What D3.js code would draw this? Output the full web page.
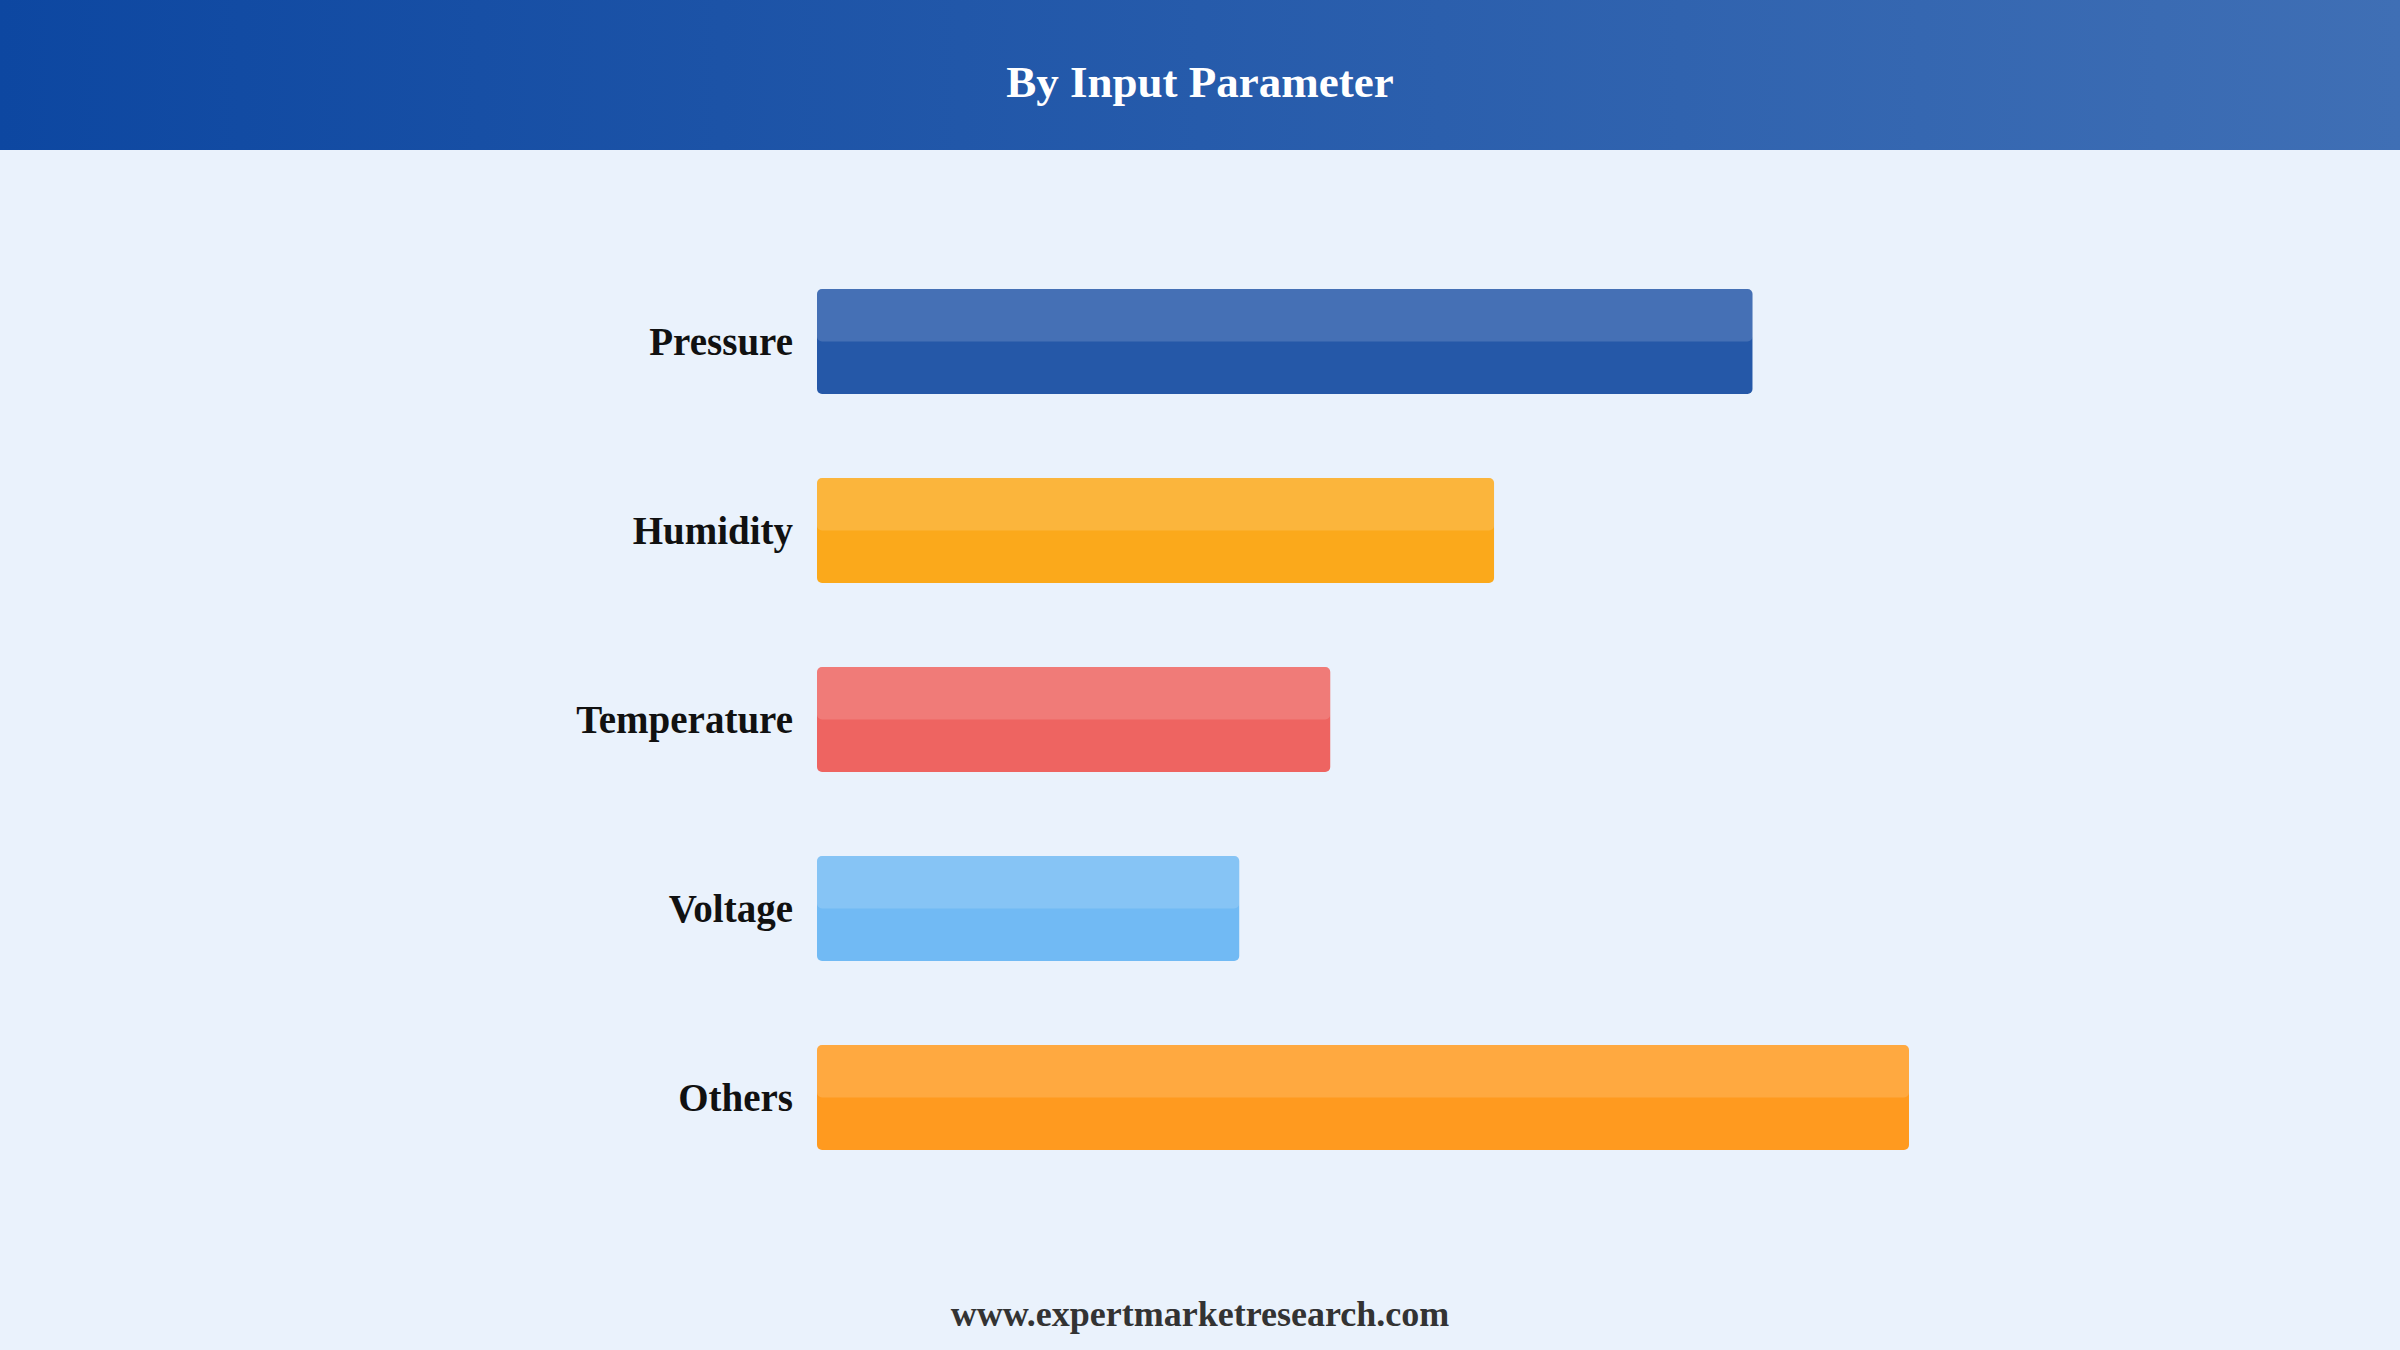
<!DOCTYPE html>
<html>
<head>
<meta charset="utf-8">
<script src="https://cdn.jsdelivr.net/npm/d3@7"></script>
<style>
  html, body { margin: 0; padding: 0; background: #eaf2fc; }
  svg { display: block; }
</style>
</head>
<body>
<div id="chart"></div>
<script>
const categories = ['Pressure', 'Humidity', 'Temperature', 'Voltage', 'Others'];
const values = [25.7, 18.6, 14.1, 11.6, 30.0];
const colors = ['#2558a8', '#fba91b', '#ee6461', '#71baf4', '#ff9a1f'];

const title = 'By Input Parameter';
const source = 'www.expertmarketresearch.com';

const width = 2400;
const height = 1350;
const headerH = 150;
const font = '"Liberation Serif", "Times New Roman", serif';

const data = categories.map((c, i) => ({ name: c, value: values[i], color: colors[i] }));

const svg = d3.select('#chart').append('svg')
  .attr('viewBox', [0, 0, width, height])
  .attr('width', width)
  .attr('height', height);

// header gradient
const grad = svg.append('defs').append('linearGradient')
  .attr('id', 'hdr')
  .attr('x1', '0%').attr('x2', '100%')
  .attr('y1', '0%').attr('y2', '0%');
grad.append('stop').attr('offset', '0%').attr('stop-color', '#0d47a1');
grad.append('stop').attr('offset', '100%').attr('stop-color', '#3f6fb5');

svg.append('rect')
  .attr('width', width)
  .attr('height', height)
  .attr('fill', '#eaf2fc');

svg.append('rect')
  .attr('width', width)
  .attr('height', headerH)
  .attr('fill', 'url(#hdr)');

svg.append('text')
  .attr('x', width / 2)
  .attr('y', 81)
  .attr('dy', '0.35em')
  .attr('text-anchor', 'middle')
  .attr('font-family', font)
  .attr('font-weight', 'bold')
  .attr('font-size', 45)
  .attr('fill', '#fff')
  .text(title);

const x = d3.scaleLinear()
  .domain([0, 30])
  .range([817, 1909]);

const y = d3.scaleBand()
  .domain(categories)
  .range([205, 1234])
  .padding(0.444);

const bars = svg.append('g')
  .selectAll('g')
  .data(data)
  .enter().append('g');

bars.append('rect')
  .attr('x', x(0))
  .attr('y', d => y(d.name))
  .attr('width', d => x(d.value) - x(0))
  .attr('height', y.bandwidth())
  .attr('rx', 5)
  .attr('fill', d => d.color);

// lighter top half
bars.append('rect')
  .attr('x', x(0))
  .attr('y', d => y(d.name))
  .attr('width', d => x(d.value) - x(0))
  .attr('height', y.bandwidth() / 2)
  .attr('rx', 5)
  .attr('fill', '#fff')
  .attr('fill-opacity', 0.15);

bars.append('text')
  .attr('x', x(0) - 24)
  .attr('y', d => y(d.name) + y.bandwidth() / 2)
  .attr('dy', '0.35em')
  .attr('text-anchor', 'end')
  .attr('font-family', font)
  .attr('font-weight', 'bold')
  .attr('font-size', 39)
  .attr('fill', '#111')
  .text(d => d.name);

svg.append('text')
  .attr('x', width / 2)
  .attr('y', 1313)
  .attr('dy', '0.35em')
  .attr('text-anchor', 'middle')
  .attr('font-family', font)
  .attr('font-weight', 'bold')
  .attr('font-size', 36)
  .attr('fill', '#333')
  .text(source);
</script>
</body>
</html>
